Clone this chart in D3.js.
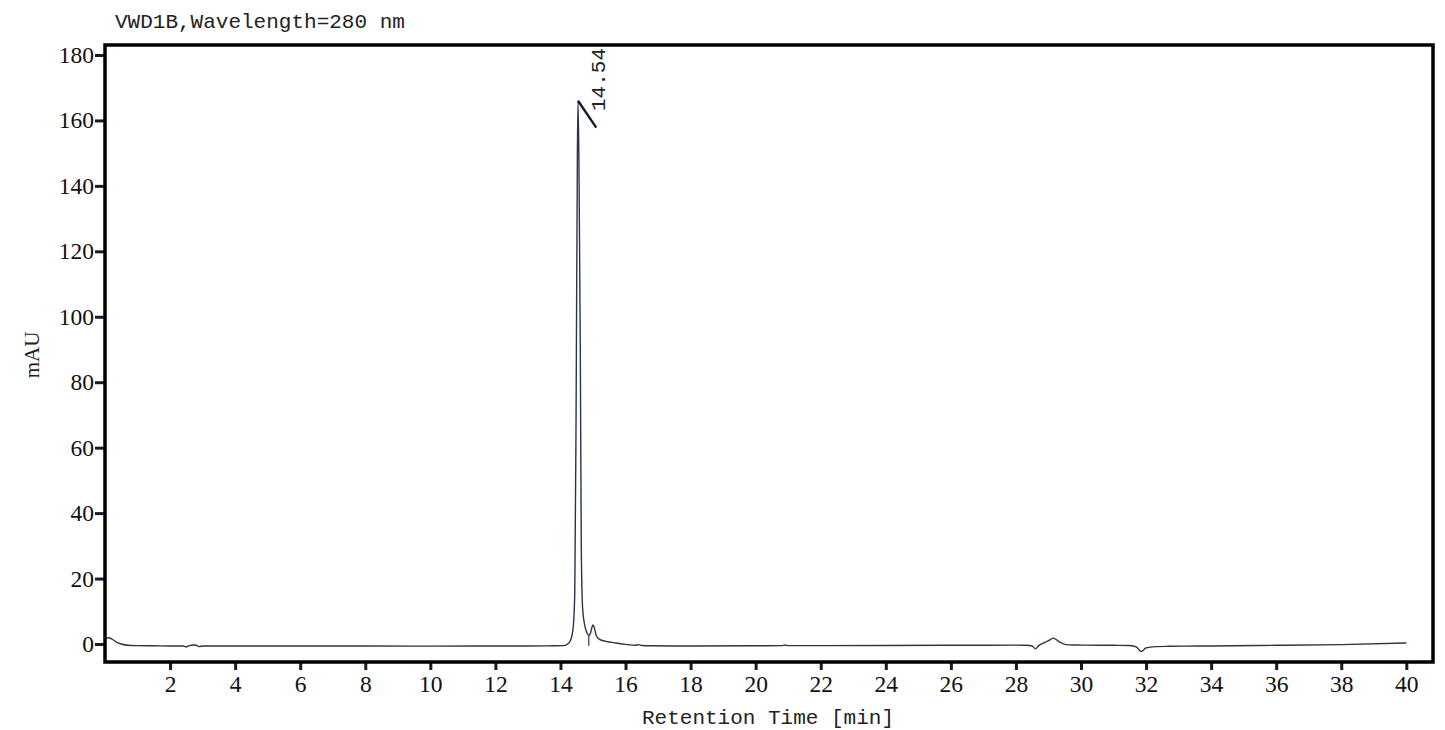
<head>
  <title>VWD1B chromatogram</title>
  <script src="https://d3js.org/d3.v7.min.js"></script>
  <style>
    body { margin: 0; background: #fff; }
    svg { display: block; }
  </style>
</head>

<body>
  <svg id='canvas'></svg>
</body>

<script>
  // signal (time in min, absorbance in mAU)
  times = [0, 0.1, 0.2, 0.35, 0.5, 0.7, 1.0, 1.5, 2.0, 2.4, 2.5, 2.6, 2.7, 2.8, 2.9, 3.0, 3.3,
    4, 6, 8, 10, 12, 13, 13.8, 14.1, 14.25, 14.35, 14.4, 14.44, 14.48, 14.52, 14.54,
    14.57, 14.61, 14.64, 14.68, 14.74, 14.8, 14.87, 14.93, 14.97, 15.0, 15.04, 15.1, 15.2,
    15.4, 15.7, 16.0, 16.3, 16.4, 16.5, 16.8, 17.5, 18, 20, 20.8, 20.9, 21.0, 21.3, 22, 24,
    26, 28, 28.3, 28.5, 28.6, 28.7, 28.85, 29.0, 29.15, 29.3, 29.5, 29.8, 30.2, 31, 31.5,
    31.7, 31.85, 32.0, 32.3, 32.7, 33.2, 34, 36, 38, 40];
  mAU = [1.6, 1.9, 1.6, 0.6, 0.0, -0.4, -0.5, -0.55, -0.6, -0.6, -0.9, -0.5, -0.3, -0.4, -0.8, -0.6, -0.6,
    -0.6, -0.6, -0.6, -0.65, -0.6, -0.6, -0.55, -0.5, 0.2, 2.5, 6, 16, 70, 150, 166,
    145, 90, 30, 11, 6, 3.8, 2.6, 3.6, 5.2, 5.8, 5.0, 2.6, 1.4,
    0.8, 0.3, -0.1, -0.4, -0.2, -0.45, -0.55, -0.6, -0.6, -0.55, -0.5, -0.3, -0.5, -0.5, -0.5, -0.45,
    -0.4, -0.35, -0.4, -0.6, -1.5, -0.5, 0.3, 1.0, 1.8, 0.9, -0.1, -0.3, -0.35, -0.4, -0.45,
    -0.9, -2.3, -1.2, -0.8, -0.7, -0.65, -0.6, -0.4, -0.2, 0.3];
  xTicks = [2, 4, 6, 8, 10, 12, 14, 16, 18, 20, 22, 24, 26, 28, 30, 32, 34, 36, 38, 40];
  yTicks = [0, 20, 40, 60, 80, 100, 120, 140, 160, 180];
  peakTime = 14.54;
  peakLabel = '14.54';
  valleyTime = 14.87;
  titleText = 'VWD1B,Wavelength=280 nm';

  width = 1445;
  height = 730;
  plotL = 105; plotT = 45; plotR = 1433; plotB = 662;
  ink = '#141c2c';

  svg = d3.select('svg').attr('width', width).attr('height', height);

  x = d3.scaleLinear().domain([0, 40.82]).range([plotL, plotR]);
  y = d3.scaleLinear().domain([-5.5, 183.05]).range([plotB, plotT]);

  // title
  svg.append('text')
    .attr('x', 115).attr('y', 28)
    .attr('font-family', 'Liberation Mono, monospace')
    .attr('font-size', 21)
    .attr('fill', '#222')
    .text(titleText);

  // trace
  pts = times.map((t, i) => [t, mAU[i]]);
  line = d3.line()
    .x(d => x(d[0]))
    .y(d => y(d[1]))
    .curve(d3.curveMonotoneX);
  svg.append('path')
    .datum(pts)
    .attr('d', line)
    .attr('fill', 'none')
    .attr('stroke', '#2a3548')
    .attr('stroke-width', 1.4);

  // valley drop line
  svg.append('line')
    .attr('x1', x(valleyTime)).attr('x2', x(valleyTime))
    .attr('y1', y(2.6)).attr('y2', y(-0.5))
    .attr('stroke', '#2a3548').attr('stroke-width', 1.2);

  // peak marker + label
  svg.append('line')
    .attr('x1', x(peakTime)).attr('y1', y(166))
    .attr('x2', x(15.1)).attr('y2', y(157.8))
    .attr('stroke', ink).attr('stroke-width', 2.4);
  svg.append('text')
    .attr('transform', 'translate(' + (x(peakTime) + 27) + ',' + 111 + ') rotate(-90)')
    .attr('font-family', 'Liberation Mono, monospace')
    .attr('font-size', 21)
    .attr('fill', '#222')
    .text(peakLabel);

  // axes
  xAxis = d3.axisBottom(x).tickValues(xTicks).tickSize(8).tickPadding(5).tickFormat(d3.format('d'));
  gx = svg.append('g').attr('transform', 'translate(0,' + plotB + ')').call(xAxis);
  yAxis = d3.axisLeft(y).tickValues(yTicks).tickSize(10).tickPadding(1).tickFormat(d3.format('d'));
  gy = svg.append('g').attr('transform', 'translate(' + plotL + ',0)').call(yAxis);
  [gx, gy].forEach(g => {
    g.select('.domain').remove();
    g.selectAll('.tick line').attr('stroke', ink).attr('stroke-width', 3);
    g.selectAll('.tick text')
      .attr('font-family', 'Liberation Serif, serif')
      .attr('font-size', 23.5)
      .attr('fill', '#111');
  });

  // frame
  svg.append('rect')
    .attr('x', plotL).attr('y', plotT)
    .attr('width', plotR - plotL).attr('height', plotB - plotT)
    .attr('fill', 'none')
    .attr('stroke', '#000')
    .attr('stroke-width', 3.5);

  // axis titles
  svg.append('text')
    .attr('x', (643 + 893) / 2).attr('y', 724)
    .attr('text-anchor', 'middle')
    .attr('font-family', 'Liberation Mono, monospace')
    .attr('font-size', 21)
    .attr('fill', '#222')
    .text('Retention Time [min]');
  svg.append('text')
    .attr('transform', 'translate(39,355) rotate(-90)')
    .attr('text-anchor', 'middle')
    .attr('font-family', 'Liberation Serif, serif')
    .attr('font-size', 21)
    .attr('fill', '#222')
    .text('mAU');
</script>
